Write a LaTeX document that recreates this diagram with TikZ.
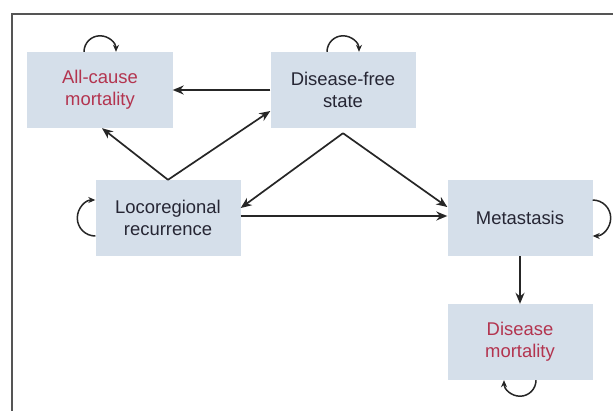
\documentclass[tikz,border=0pt]{standalone}
\usepackage{fontspec}
\setmainfont{Liberation Sans}
\usetikzlibrary{arrows.meta,calc}
\definecolor{boxfill}{HTML}{D5DFEA}
\definecolor{redtext}{HTML}{B3344F}
\definecolor{darktext}{HTML}{262634}
\definecolor{framecol}{HTML}{555555}
\tikzset{
  statebox/.style={fill=boxfill, draw=none, minimum width=145bp, minimum height=76bp,
    inner sep=0pt, align=center, font=\fontsize{18.5}{22}\selectfont, text=darktext},
  redstate/.style={statebox, text=redtext},
  conn/.style={line width=1.7bp, draw=black!85, -{Stealth[length=11bp,width=9bp]}},
  selfloop/.style={line width=1.5bp, draw=black!85, -{Stealth[length=7bp,width=6bp]}}
}
\begin{document}
\begin{tikzpicture}[x=1bp,y=1bp]
\useasboundingbox (0,0) rectangle (613,411);
\fill[white] (0,0) rectangle (613,411);
% frame
\draw[framecol, line width=2bp] (613,397) -- (12,397) -- (12,0);
% states
\node[redstate] (ac) at (100,321) {All-cause\\mortality};
\node[statebox] (df) at (343,321) {Disease-free\\state};
\node[statebox] (lr) at (168,193) {Locoregional\\recurrence};
\node[statebox] (me) at (520,193) {Metastasis};
\node[redstate] (dm) at (520,69) {Disease\\mortality};
\coordinate (dfapex) at ($(df.south)+(0,-5)$);
% transitions
\draw[conn] (df.west) -- (ac.east);
\draw[conn] (lr.north) -- ([xshift=2bp]ac.south);
\draw[conn] (lr.north) -- ([yshift=-21bp]df.west);
\draw[conn] (dfapex) -- ([yshift=10bp]lr.east);
\draw[conn] (dfapex) -- ([yshift=11bp]me.west);
\draw[conn] ([yshift=2bp]lr.east) -- ([yshift=2bp]me.west);
\draw[conn] (me.south) -- (dm.north);
% self loops
\draw[selfloop] ([xshift=-16bp]ac.north) arc[start angle=180,end angle=0,radius=16bp];
\draw[selfloop] ([xshift=-16bp]df.north) arc[start angle=180,end angle=0,radius=16bp];
\draw[selfloop] ([yshift=-18bp]lr.west) arc[start angle=270,end angle=90,radius=18bp];
\draw[selfloop] ([yshift=18bp]me.east) arc[start angle=90,end angle=-90,radius=18bp];
\draw[selfloop] ([xshift=16bp]dm.south) arc[start angle=0,end angle=-180,radius=16bp];
\end{tikzpicture}
\end{document}
